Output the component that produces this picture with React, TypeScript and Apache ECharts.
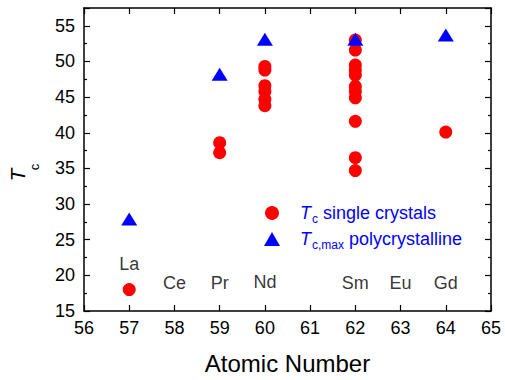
import React, { useEffect, useRef } from "react";
import * as echarts from "echarts";

const singleX = [57, 59, 59, 60, 60, 60, 60, 60, 60, 62, 62, 62, 62, 62, 62, 62, 62, 62, 62, 62, 64];
const singleY = [18.0, 38.6, 37.2, 49.3, 48.8, 46.6, 45.8, 44.7, 43.8, 53.0, 51.6, 49.5, 48.8, 48.1, 46.5, 45.8, 44.9, 41.6, 36.5, 34.7, 40.1];
const polyX = [57, 59, 60, 62, 64];
const polyY = [27.9, 48.2, 53.1, 53.1, 53.7];
const elemNames = ["La", "Ce", "Pr", "Nd", "Sm", "Eu", "Gd"];
const elemX = [57, 58, 59, 60, 62, 63, 64];
const elemY = [21.6, 18.9, 18.9, 19.1, 18.9, 18.9, 18.9];

const FONT = "Liberation Sans, Arial, sans-serif";

export default function App() {
  const ref = useRef<HTMLDivElement>(null);
  useEffect(() => {
    if (!ref.current) return;
    const chart = echarts.init(ref.current, null, { renderer: "svg" });
    const axisCommon = {
      axisLine: { show: true, lineStyle: { color: "#000", width: 1.5 } },
      axisTick: { show: true, inside: true, length: 6, lineStyle: { color: "#000", width: 1.2 } },
      splitLine: { show: false },
    };
    chart.setOption({
      animation: false,
      textStyle: { fontFamily: FONT },
      grid: { left: 84, right: 14, top: 8, bottom: 69 },
      graphic: [
        {
          type: "text",
          x: 17,
          y: 175,
          rotation: Math.PI / 2,
          style: {
            text: "T",
            fontSize: 21,
            fontStyle: "italic",
            fontFamily: FONT,
            fill: "#000",
            align: "center",
            verticalAlign: "middle",
          },
        },
        {
          type: "text",
          x: 34,
          y: 167,
          rotation: Math.PI / 2,
          style: {
            text: "c",
            fontSize: 13,
            fontFamily: FONT,
            fill: "#000",
            align: "center",
            verticalAlign: "middle",
          },
        },
      ],
      legend: {
        orient: "vertical",
        left: 259,
        top: 199,
        itemWidth: 16,
        itemHeight: 14,
        itemGap: 5,
        data: [
          { name: "single", icon: "circle", itemStyle: { color: "#ff0000" } },
          { name: "poly", icon: "triangle", itemStyle: { color: "#0000ff" } },
        ],
        formatter: (n: string) =>
          n === "single" ? "{i|T}{s|c} single crystals" : "{i|T}{s|c,max} polycrystalline",
        textStyle: {
          color: "#0000ff",
          fontSize: 18,
          fontFamily: FONT,
          padding: [0, 0, 0, 15],
          rich: {
            i: { fontStyle: "italic", fontSize: 18, color: "#0000ff", fontFamily: FONT },
            s: { fontSize: 12, color: "#0000ff", padding: [12, 0, 0, 1], fontFamily: FONT },
          },
        },
      },
      xAxis: [
        {
          type: "value",
          min: 56,
          max: 65,
          interval: 1,
          name: "Atomic Number",
          nameLocation: "middle",
          nameGap: 40,
          nameTextStyle: { fontSize: 24, color: "#000", fontFamily: FONT },
          axisLabel: { fontSize: 18, color: "#000", margin: 8, fontFamily: FONT },
          ...axisCommon,
        },
        {
          type: "value",
          position: "top",
          min: 56,
          max: 65,
          interval: 1,
          axisLabel: { show: false },
          ...axisCommon,
        },
      ],
      yAxis: [
        {
          type: "value",
          min: 15,
          max: 57.5,
          interval: 5,
          axisLabel: { fontSize: 18, color: "#000", showMaxLabel: false, margin: 9, fontFamily: FONT },
          minorTick: { show: true, splitNumber: 2, length: 3, lineStyle: { color: "#000", width: 1.2 } },
          ...axisCommon,
        },
        {
          type: "value",
          position: "right",
          min: 15,
          max: 57.5,
          interval: 5,
          axisLabel: { show: false },
          minorTick: { show: true, splitNumber: 2, length: 3, lineStyle: { color: "#000", width: 1.2 } },
          ...axisCommon,
        },
      ],
      series: [
        {
          name: "single",
          type: "scatter",
          symbol: "circle",
          symbolSize: 13,
          itemStyle: { color: "#ff0000", opacity: 1 },
          data: singleX.map((x, i) => [x, singleY[i]]),
          z: 3,
        },
        {
          name: "poly",
          type: "scatter",
          symbol: "triangle",
          symbolSize: [16, 13],
          itemStyle: { color: "#0000ff", opacity: 1 },
          data: polyX.map((x, i) => [x, polyY[i]]),
          z: 4,
        },
        {
          name: "elements",
          type: "scatter",
          symbolSize: 0,
          silent: true,
          data: elemX.map((x, i) => ({ value: [x, elemY[i]], name: elemNames[i] })),
          label: {
            show: true,
            position: "inside",
            formatter: (p: any) => p.name,
            fontSize: 18,
            color: "#000",
            fontFamily: FONT,
          },
          z: 2,
        },
      ],
    });
    return () => chart.dispose();
  }, []);
  return <div ref={ref} style={{ width: 505, height: 380, position: "absolute", left: 0, top: 0 }} />;
}
